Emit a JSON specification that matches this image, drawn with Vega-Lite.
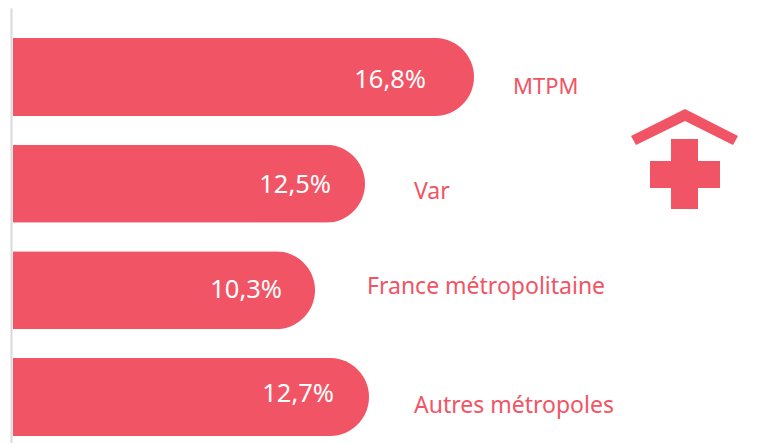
{"$schema":"https://vega.github.io/schema/vega-lite/v6.json","width":756,"height":443,"padding":{"left":13,"top":0,"right":0,"bottom":0},"autosize":"none","background":"white","config":{"view":{"stroke":null},"text":{"font":"Noto Sans","fontSize":23,"baseline":"middle"}},"data":{"values":[{"territoire":"MTPM","valeur":16.8,"texte":"16,8%"},{"territoire":"Var","valeur":12.5,"texte":"12,5%"},{"territoire":"France métropolitaine","valeur":10.3,"texte":"10,3%"},{"territoire":"Autres métropoles","valeur":12.7,"texte":"12,7%"}]},"encoding":{"y":{"field":"territoire","type":"nominal","sort":null,"scale":{"type":"band","domain":["MTPM","Var","France métropolitaine","Autres métropoles"],"range":[8,443],"paddingInner":0.269,"paddingOuter":0.1735,"align":0.81},"axis":{"title":null,"labels":false,"ticks":false,"domain":true,"domainColor":"#d9d9d9","domainWidth":2,"offset":2,"grid":false}},"x":{"field":"valeur","type":"quantitative","scale":{"domain":[0,10.3,12.5,12.7,16.8,25.04],"range":[0,302,352,356,461,672]},"axis":null}},"layer":[{"mark":{"type":"bar","color":"#f15464","cornerRadiusEnd":39}},{"transform":[{"filter":"datum.territoire==='MTPM'"}],"layer":[{"mark":{"type":"text","align":"right","baseline":"middle","color":"white","fontSize":25.5,"dx":-48,"dy":3},"encoding":{"text":{"field":"texte"}}},{"mark":{"type":"text","align":"left","baseline":"middle","color":"#f15464","fontSize":22,"dx":39,"dy":10},"encoding":{"text":{"field":"territoire"}}}]},{"transform":[{"filter":"datum.territoire==='Var'"}],"layer":[{"mark":{"type":"text","align":"right","baseline":"middle","color":"white","fontSize":25.5,"dx":-34,"dy":1},"encoding":{"text":{"field":"texte"}}},{"mark":{"type":"text","align":"left","baseline":"middle","color":"#f15464","dx":49,"dy":8},"encoding":{"text":{"field":"territoire"}}}]},{"transform":[{"filter":"datum.territoire==='France métropolitaine'"}],"layer":[{"mark":{"type":"text","align":"right","baseline":"middle","color":"white","fontSize":25.5,"dx":-33,"dy":0},"encoding":{"text":{"field":"texte"}}},{"mark":{"type":"text","align":"left","baseline":"middle","color":"#f15464","dx":52,"dy":-3},"encoding":{"text":{"field":"territoire"}}}]},{"transform":[{"filter":"datum.territoire==='Autres métropoles'"}],"layer":[{"mark":{"type":"text","align":"right","baseline":"middle","color":"white","fontSize":25.5,"dx":-35,"dy":-3},"encoding":{"text":{"field":"texte"}}},{"mark":{"type":"text","align":"left","baseline":"middle","color":"#f15464","dx":45,"dy":9},"encoding":{"text":{"field":"territoire"}}}]},{"data":{"values":[{"valeur":25.04,"hauteur":0.641}]},"mark":{"type":"point","filled":true,"opacity":1,"color":"#f15464","strokeWidth":0,"size":40000,"shape":"M-.54,-.23L0,-.5L.53,-.23L.48,-.14L0,-.38L-.49,-.14ZM-.14,-.2H.13V.02H.35V.29H.13V.5H-.14V.29H-.35V.02H-.14Z"},"encoding":{"y":{"field":"hauteur","type":"quantitative","scale":{"domain":[0,1],"range":[443,0]},"axis":null}}}],"resolve":{"scale":{"y":"independent"}}}
